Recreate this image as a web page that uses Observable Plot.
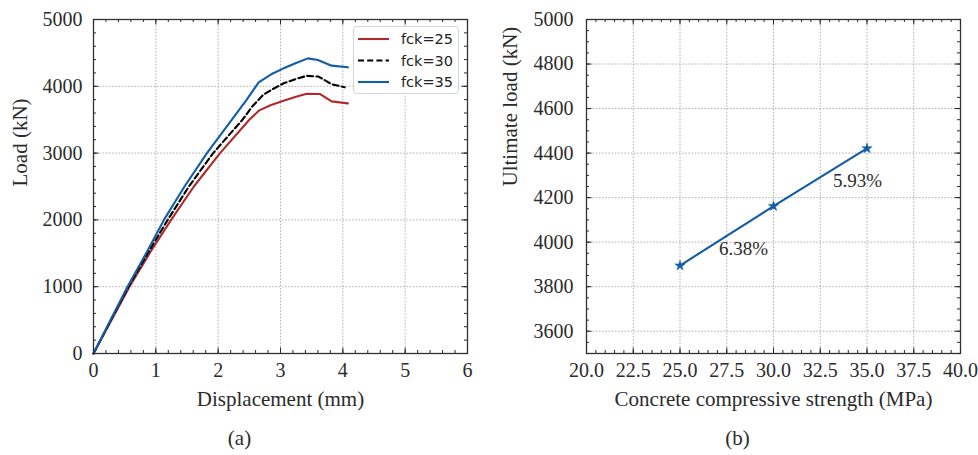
<!DOCTYPE html>
<html>
<head>
<meta charset="utf-8">
<script src="https://cdn.jsdelivr.net/npm/d3@7"></script>
<script src="https://cdn.jsdelivr.net/npm/@observablehq/plot@0.6"></script>
<style>
  html, body { margin: 0; padding: 0; background: #fff; }
  #wrap { position: relative; width: 978px; height: 455px; overflow: hidden; }
  #pa { position: absolute; left: 0; top: 0; }
  #pb { position: absolute; left: 489px; top: 0; }
  #legend { position: absolute; left: 353px; top: 26px; width: 106px; height: 68px;
            border: 1px solid #d4d4d4; border-radius: 4px; background: rgba(255,255,255,0.9); box-sizing: border-box; }
</style>
</head>
<body>
<div id="wrap">
  <div id="pa"></div>
  <div id="pb"></div>
  <div id="legend"></div>
</div>
<script>
// ---------- Panel (a) data: load–displacement curves ----------
const seriesNames = ["fck=25", "fck=30", "fck=35"];
const disp25 = [0, 0.577, 0.90, 1.245, 1.61, 2.03, 2.50, 2.66, 2.85, 3.05, 3.25, 3.42, 3.63, 3.82, 4.08];
const load25 = [0, 1000, 1500, 2000, 2500, 3000, 3500, 3640, 3720, 3784, 3845, 3888, 3885, 3774, 3744];
const disp30 = [0, 0.56, 0.87, 1.19, 1.53, 1.92, 2.39, 2.55, 2.72, 2.88, 3.05, 3.25, 3.42, 3.61, 3.82, 4.03];
const load30 = [0, 1000, 1500, 2000, 2500, 3000, 3500, 3700, 3870, 3960, 4046, 4110, 4156, 4146, 4031, 3987];
const disp35 = [0, 0.545, 0.845, 1.13, 1.46, 1.82, 2.22, 2.45, 2.65, 2.85, 3.05, 3.25, 3.44, 3.60, 3.82, 4.08];
const load35 = [0, 1000, 1500, 2000, 2500, 3000, 3500, 3790, 4060, 4180, 4269, 4350, 4418, 4394, 4309, 4284];

// ---------- Panel (b) data: ultimate load vs strength ----------
const strength = [25, 30, 35];
const ultimate = [3895, 4162, 4421];
const pctX = [28.4, 34.5];
const pctY = [3970, 4273];
const pctText = ["6.38%", "5.93%"];

// ---------- tick values ----------
const aXMajor = [0, 1, 2, 3, 4, 5, 6];
const aYMajor = [0, 1000, 2000, 3000, 4000, 5000];
const bXMajor = [20, 22.5, 25, 27.5, 30, 32.5, 35, 37.5, 40];
const bYMajor = [3600, 3800, 4000, 4200, 4400, 4600, 4800, 5000];
const aXMinor = d3.range(0, 6.001, 0.2);
const aYMinor = d3.range(0, 5001, 200);
const bXMinor = d3.range(20, 40.001, 0.5);
const bYMinor = d3.range(3500, 5001, 50);

const RED = "#b02a2a", BLUE = "#115da6", INK = "#2b2b2b", GRID = "#a9a9a9";
const SERIF = "'Liberation Serif', 'DejaVu Serif', serif";

const rows = (xs, ys, name) => xs.map((x, i) => ({x, y: ys[i], name}));

function frameTicks(xMaj, xMin, yMaj, yMin, fh, fw) {
  const s = {stroke: INK, strokeWidth: 1};
  return [
    Plot.tickX(xMaj, {x: d => d, insetTop: fh - 5.5, ...s}),
    Plot.tickX(xMaj, {x: d => d, insetBottom: fh - 5.5, ...s}),
    Plot.tickX(xMin, {x: d => d, insetTop: fh - 3, ...s}),
    Plot.tickX(xMin, {x: d => d, insetBottom: fh - 3, ...s}),
    Plot.tickY(yMaj, {y: d => d, insetRight: fw - 5.5, ...s}),
    Plot.tickY(yMaj, {y: d => d, insetLeft: fw - 5.5, ...s}),
    Plot.tickY(yMin, {y: d => d, insetRight: fw - 3, ...s}),
    Plot.tickY(yMin, {y: d => d, insetLeft: fw - 3, ...s})
  ];
}

const W = 489, H = 455;
// Panel (a)
{
  const mL = 93, mR = 22, mT = 19, mB = 102;
  const fw = W - mL - mR, fh = H - mT - mB;
  const chart = Plot.plot({
    width: W, height: H,
    marginLeft: mL, marginRight: mR, marginTop: mT, marginBottom: mB,
    style: {fontFamily: SERIF, fontSize: "20px", color: INK, background: "white"},
    x: {domain: [0, 6]},
    y: {domain: [0, 5000]},
    marks: [
      Plot.gridX(aXMajor, {stroke: GRID, strokeOpacity: 1, strokeDasharray: "1.6,1.6", strokeWidth: 0.9}),
      Plot.gridY(aYMajor, {stroke: GRID, strokeOpacity: 1, strokeDasharray: "1.6,1.6", strokeWidth: 0.9}),
      Plot.line(rows(disp25, load25, seriesNames[0]), {x: "x", y: "y", stroke: RED, strokeWidth: 2.1}),
      Plot.line(rows(disp30, load30, seriesNames[1]), {x: "x", y: "y", stroke: "#000", strokeWidth: 2.1, strokeDasharray: "6,3.2"}),
      Plot.line(rows(disp35, load35, seriesNames[2]), {x: "x", y: "y", stroke: BLUE, strokeWidth: 2.1}),
      Plot.frame({stroke: "#333", strokeWidth: 1.3}),
      ...frameTicks(aXMajor, aXMinor, aYMajor, aYMinor, fh, fw),
      Plot.axisX(aXMajor, {tickSize: 0, tickPadding: 9, label: null, tickFormat: d3.format("d"), fontSize: 20}),
      Plot.axisY(aYMajor, {tickSize: 0, tickPadding: 11, label: null, tickFormat: d3.format("d"), fontSize: 20}),
      Plot.text(["Displacement (mm)"], {text: d => d, frameAnchor: "bottom", dy: 52, fontSize: 21, fill: INK}),
      Plot.text(["Load (kN)"], {text: d => d, frameAnchor: "left", dx: -73, rotate: -90, fontSize: 21, fill: INK}),
      Plot.text(["(a)"], {text: d => d, frameAnchor: "bottom-left", dx: 146, dy: 91, textAnchor: "middle", fontSize: 21, fill: INK})
    ]
  });
  document.getElementById("pa").appendChild(chart);
}
// Panel (b)
{
  const mL = 97, mR = 18, mT = 19, mB = 102;
  const fw = W - mL - mR, fh = H - mT - mB;
  const data = strength.map((s, i) => ({s, u: ultimate[i]}));
  const labels = pctText.map((t, i) => ({x: pctX[i], y: pctY[i], t}));
  const chart = Plot.plot({
    width: W, height: H,
    marginLeft: mL, marginRight: mR, marginTop: mT, marginBottom: mB,
    style: {fontFamily: SERIF, fontSize: "20px", color: INK, background: "white"},
    x: {domain: [20, 40]},
    y: {domain: [3500, 5000]},
    marks: [
      Plot.gridX(bXMajor, {stroke: GRID, strokeOpacity: 1, strokeDasharray: "1.6,1.6", strokeWidth: 0.9}),
      Plot.gridY(bYMajor, {stroke: GRID, strokeOpacity: 1, strokeDasharray: "1.6,1.6", strokeWidth: 0.9}),
      Plot.line(data, {x: "s", y: "u", stroke: BLUE, strokeWidth: 2.1}),
      Plot.dot(data, {x: "s", y: "u", symbol: "star", r: 3.2, fill: BLUE, stroke: BLUE, strokeWidth: 0.5}),
      Plot.text(labels, {x: "x", y: "y", text: "t", fontSize: 19, fill: INK}),
      Plot.frame({stroke: "#333", strokeWidth: 1.3}),
      ...frameTicks(bXMajor, bXMinor, bYMajor, bYMinor, fh, fw),
      Plot.axisX(bXMajor, {tickSize: 0, tickPadding: 9, label: null, tickFormat: d3.format(".1f"), fontSize: 20}),
      Plot.axisY(bYMajor, {tickSize: 0, tickPadding: 13, label: null, tickFormat: d3.format("d"), fontSize: 20}),
      Plot.text(["Concrete compressive strength (MPa)"], {text: d => d, frameAnchor: "bottom", dy: 52, fontSize: 21, fill: INK}),
      Plot.text(["Ultimate load (kN)"], {text: d => d, frameAnchor: "left", dx: -76, rotate: -90, fontSize: 21, fill: INK}),
      Plot.text(["(b)"], {text: d => d, frameAnchor: "bottom-left", dx: 151, dy: 91, textAnchor: "middle", fontSize: 21, fill: INK})
    ]
  });
  document.getElementById("pb").appendChild(chart);
}
// Legend for panel (a)
{
  const items = [
    {name: seriesNames[0], color: RED, dash: null},
    {name: seriesNames[1], color: "#000", dash: "6,3.2"},
    {name: seriesNames[2], color: BLUE, dash: null}
  ];
  const ns = "http://www.w3.org/2000/svg";
  const svg = document.createElementNS(ns, "svg");
  svg.setAttribute("width", 104); svg.setAttribute("height", 66);
  items.forEach((it, i) => {
    const cy = 12 + i * 21.5;
    const ln = document.createElementNS(ns, "line");
    ln.setAttribute("x1", 4); ln.setAttribute("x2", 35);
    ln.setAttribute("y1", cy); ln.setAttribute("y2", cy);
    ln.setAttribute("stroke", it.color); ln.setAttribute("stroke-width", 2.1);
    if (it.dash) ln.setAttribute("stroke-dasharray", it.dash);
    svg.appendChild(ln);
    const tx = document.createElementNS(ns, "text");
    tx.setAttribute("x", 47); tx.setAttribute("y", cy);
    tx.setAttribute("dy", "0.35em");
    tx.setAttribute("font-family", "'DejaVu Sans', sans-serif");
    tx.setAttribute("font-size", "14.5");
    tx.setAttribute("fill", "#222");
    tx.textContent = it.name;
    svg.appendChild(tx);
  });
  document.getElementById("legend").appendChild(svg);
}
</script>
</body>
</html>
